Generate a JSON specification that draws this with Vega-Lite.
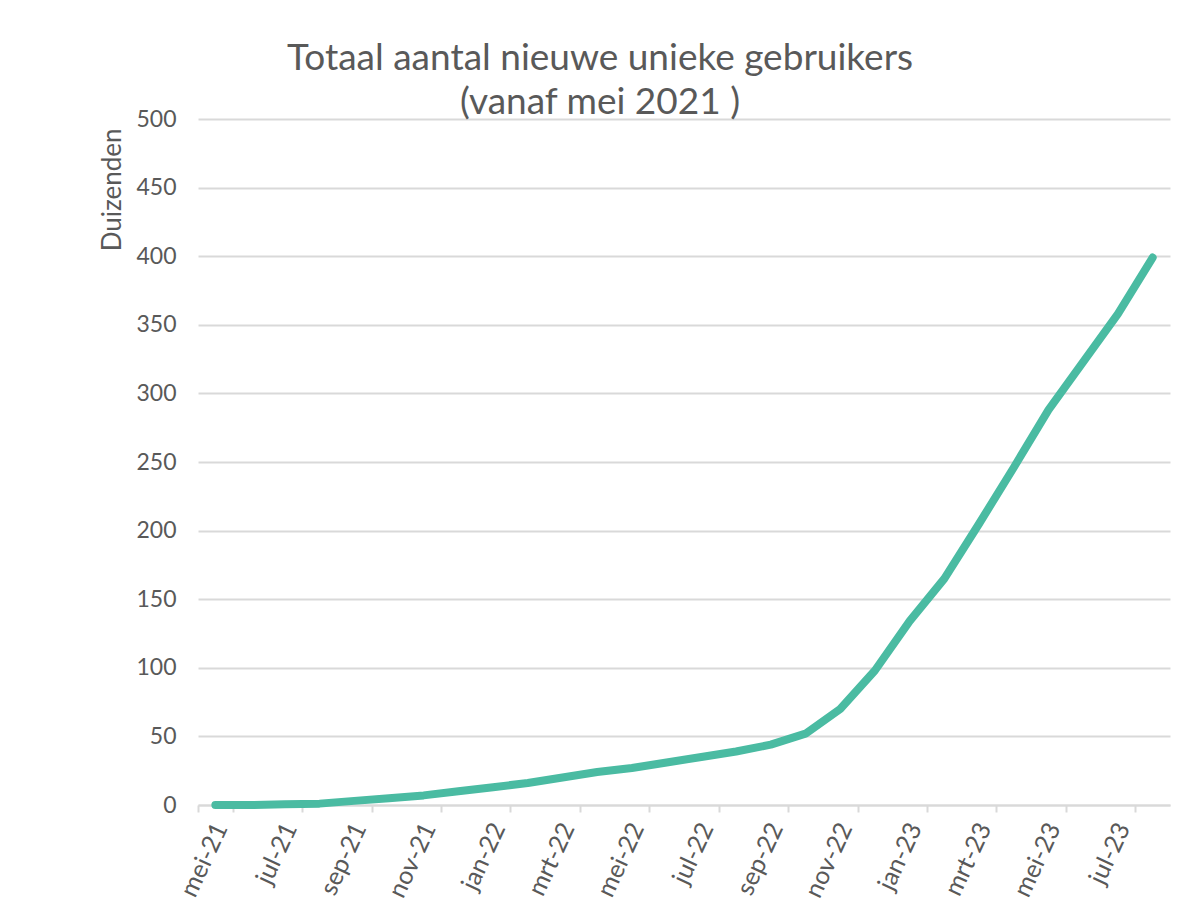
{
  "$schema": "https://vega.github.io/schema/vega-lite/v6.json",
  "width": 972,
  "height": 686,
  "autosize": {"type": "none"},
  "padding": {"left": 198, "top": 119, "right": 7, "bottom": 111},
  "background": "white",
  "title": {
    "text": ["Totaal aantal nieuwe unieke gebruikers", "(vanaf mei 2021 )"],
    "font": "Lato",
    "fontSize": 37,
    "fontWeight": "normal",
    "color": "#595959",
    "anchor": "middle",
    "dx": -84,
    "offset": -14,
    "lineHeight": 44
  },
  "data": {
    "values": [
      {"maand": "mei-21", "waarde": 0},
      {"maand": "jun-21", "waarde": 0},
      {"maand": "jul-21", "waarde": 0.5},
      {"maand": "aug-21", "waarde": 1},
      {"maand": "sep-21", "waarde": 3},
      {"maand": "okt-21", "waarde": 5},
      {"maand": "nov-21", "waarde": 7},
      {"maand": "dec-21", "waarde": 10},
      {"maand": "jan-22", "waarde": 13},
      {"maand": "feb-22", "waarde": 16},
      {"maand": "mrt-22", "waarde": 20},
      {"maand": "apr-22", "waarde": 24},
      {"maand": "mei-22", "waarde": 27},
      {"maand": "jun-22", "waarde": 31},
      {"maand": "jul-22", "waarde": 35},
      {"maand": "aug-22", "waarde": 39},
      {"maand": "sep-22", "waarde": 44},
      {"maand": "okt-22", "waarde": 52},
      {"maand": "nov-22", "waarde": 70},
      {"maand": "dec-22", "waarde": 98},
      {"maand": "jan-23", "waarde": 134},
      {"maand": "feb-23", "waarde": 165},
      {"maand": "mrt-23", "waarde": 205},
      {"maand": "apr-23", "waarde": 246},
      {"maand": "mei-23", "waarde": 288},
      {"maand": "jun-23", "waarde": 323},
      {"maand": "jul-23", "waarde": 358},
      {"maand": "aug-23", "waarde": 399}
    ]
  },
  "mark": {"type": "line", "color": "#4ABBA2", "strokeWidth": 8, "strokeCap": "round", "strokeJoin": "round"},
  "encoding": {
    "x": {
      "field": "maand",
      "type": "ordinal",
      "sort": null,
      "scale": {"type": "band", "paddingInner": 0, "paddingOuter": 0},
      "axis": {
        "title": null,
        "values": ["mei-21", "jul-21", "sep-21", "nov-21", "jan-22", "mrt-22", "mei-22", "jul-22", "sep-22", "nov-22", "jan-23", "mrt-23", "mei-23", "jul-23"],
        "tickBand": "extent",
        "labelAngle": -65,
        "labelAlign": "right",
        "labelBaseline": "middle",
        "labelPadding": 12,
        "labelOffset": 5,
        "labelFont": "Lato",
        "labelFontSize": 25,
        "labelColor": "#595959",
        "domainColor": "#d9d9d9",
        "domainWidth": 2,
        "tickColor": "#d9d9d9",
        "tickWidth": 2,
        "tickSize": 7,
        "grid": false
      }
    },
    "y": {
      "field": "waarde",
      "type": "quantitative",
      "scale": {"domain": [0, 500], "nice": false},
      "axis": {
        "title": "Duizenden",
        "titleFont": "Lato",
        "titleFontSize": 26,
        "titleFontWeight": "normal",
        "titleColor": "#595959",
        "titleAnchor": "end",
        "titlePadding": 10,
        "titleY": 9,
        "titleAlign": "right",
        "values": [0, 50, 100, 150, 200, 250, 300, 350, 400, 450, 500],
        "labelFont": "Lato",
        "labelFontSize": 23,
        "labelColor": "#595959",
        "labelPadding": 22,
        "domain": false,
        "ticks": false,
        "grid": true,
        "gridColor": "#d9d9d9",
        "gridWidth": 2
      }
    }
  },
  "config": {"view": {"stroke": null}}
}
